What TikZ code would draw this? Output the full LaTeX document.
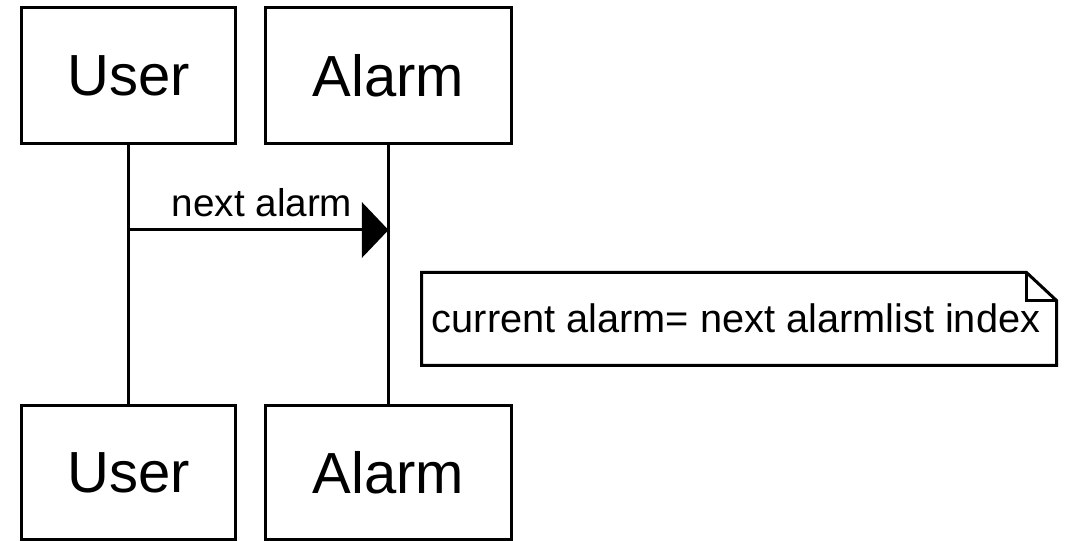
\documentclass[tikz,border=0pt]{standalone}
\usepackage{fontspec}
\setmainfont{Liberation Sans}
\usetikzlibrary{arrows.meta}

\tikzset{every picture/.style={line width=2.25pt}}
\tikzset{
  lifebox/.style={draw, inner sep=0pt, font=\fontsize{43.5}{50}\selectfont},
  msgtext/.style={inner sep=0pt, font=\fontsize{29}{34}\selectfont},
  notetext/.style={inner sep=0pt, font=\fontsize{29.8}{34}\selectfont},
  msgarrow/.style={-{Triangle[length=20pt,width=41.5pt]}}
}

\begin{document}
\begin{tikzpicture}[x=0.75pt,y=0.75pt,yscale=-1,xscale=1]
\useasboundingbox (0,0) rectangle (1074,541); %set diagram size

%Shape: Rectangle [id:usertop] 
\node [lifebox, minimum width=160.5pt, minimum height=102pt] (usertop) at (128.5,75.5) {User};
%Shape: Rectangle [id:alarmtop] 
\node [lifebox, minimum width=184.5pt, minimum height=102pt] (alarmtop) at (388.5,75.5) {Alarm};
%Shape: Rectangle [id:userbot] 
\node [lifebox, minimum width=160.5pt, minimum height=100.5pt] (userbot) at (128.5,472.5) {User};
%Shape: Rectangle [id:alarmbot] 
\node [lifebox, minimum width=184.5pt, minimum height=100.5pt] (alarmbot) at (388.5,472.5) {Alarm};

%Straight Lines [id:userlife] 
\draw (usertop) -- (userbot);
%Straight Lines [id:alarmlife] 
\draw (alarmtop) -- (alarmbot);

%Straight Lines [id:nextalarm] 
\coordinate (msgstart) at (128.5,230);
\coordinate (msgend) at (388.5,230);
\draw [msgarrow] (msgstart) -- (msgend);

% Text Node
\node [msgtext, anchor=base] (msglabel) at (262,217) {next alarm};

%Shape: Note [id:currentnote] 
\coordinate (notenw) at (421.5,272.5);
\coordinate (notese) at (1056.5,365.5);
\coordinate (notefold) at (1026.5,272.5);
\draw (notenw) -- (notefold) -- (1056.5,300.5) -- (notese) -- (421.5,365.5) -- cycle;
\draw (notefold) -- (1026.5,300.5) -- (1056.5,300.5);

% Text Node
\node [notetext, anchor=base] (notetext) at (736,333) {current alarm= next alarmlist index};

\end{tikzpicture}
\end{document}
